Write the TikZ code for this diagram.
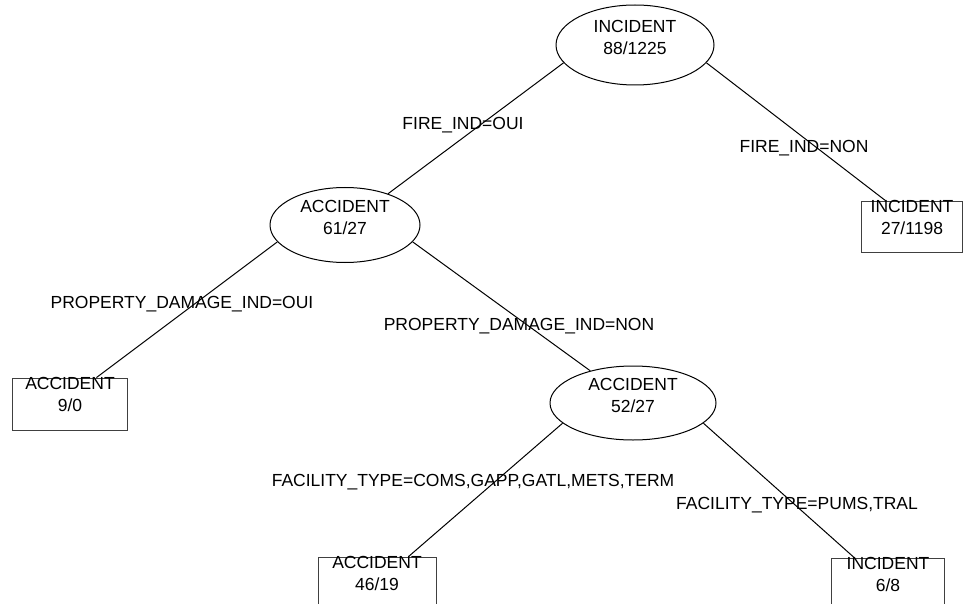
\documentclass[tikz,border=0pt]{standalone}
\usepackage{fontspec}
\setmainfont{Liberation Sans}
\usepackage{tikz}
\usepackage{xcolor}
\usetikzlibrary{shapes.geometric}

\begin{document}
\begin{tikzpicture}[x=1pt, y=-1pt, font=\fontsize{17.5}{22}\selectfont,
    split/.style={draw, ellipse, inner sep=0pt, line width=1pt},
    leafbox/.style={draw=black!75, rectangle, inner sep=0pt, line width=0.8pt},
    intext/.style={align=center, inner sep=0pt, yshift=8pt},
    leaftext/.style={align=center, inner sep=0pt, anchor=north, yshift=1pt},
    cond/.style={inner sep=0pt}]
    \useasboundingbox (0,0) rectangle (966,604);

    \node[split, minimum width=158pt, minimum height=80pt,
          label={[intext]center:{INCIDENT\\88/1225}}] (r) at (635,45) {};
    \node[split, minimum width=150pt, minimum height=75pt,
          label={[intext]center:{ACCIDENT\\61/27}}] (a) at (345,225) {};
    \node[split, minimum width=166pt, minimum height=74pt,
          label={[intext]center:{ACCIDENT\\52/27}}] (b) at (633,403) {};

    \node[leafbox, minimum width=101pt, minimum height=51pt,
          label={[leaftext]north:{INCIDENT\\27/1198}}] (ri) at (912,227) {};
    \node[leafbox, minimum width=115pt, minimum height=52pt,
          label={[leaftext]north:{ACCIDENT\\9/0}}] (aa) at (70,404) {};
    \node[leafbox, minimum width=118pt, minimum height=52pt,
          label={[leaftext]north:{ACCIDENT\\46/19}}] (ba) at (377,583) {};
    \node[leafbox, minimum width=113pt, minimum height=52pt,
          label={[leaftext]north:{INCIDENT\\6/8}}] (bi) at (888,584) {};

    \draw[line width=1pt] (r.194) -- (a.36);
    \draw[line width=1pt] (r.346) -- (ri.135);
    \draw[line width=1pt] (a.194) -- (aa.45);
    \draw[line width=1pt] (a.346) -- (b.143);
    \draw[line width=1pt] (b.196) -- (ba.40);
    \draw[line width=1pt] (b.344) -- (bi.142);

    \node[cond] (fo) at (463,125) {FIRE\_IND=OUI};
    \node[cond] (fn) at (804,148) {FIRE\_IND=NON};
    \node[cond] (po) at (182,304) {PROPERTY\_DAMAGE\_IND=OUI};
    \node[cond] (pn) at (519,326) {PROPERTY\_DAMAGE\_IND=NON};
    \node[cond] (fc) at (473,482) {FACILITY\_TYPE=COMS,GAPP,GATL,METS,TERM};
    \node[cond] (fp) at (797,505) {FACILITY\_TYPE=PUMS,TRAL};
\end{tikzpicture}
\end{document}
